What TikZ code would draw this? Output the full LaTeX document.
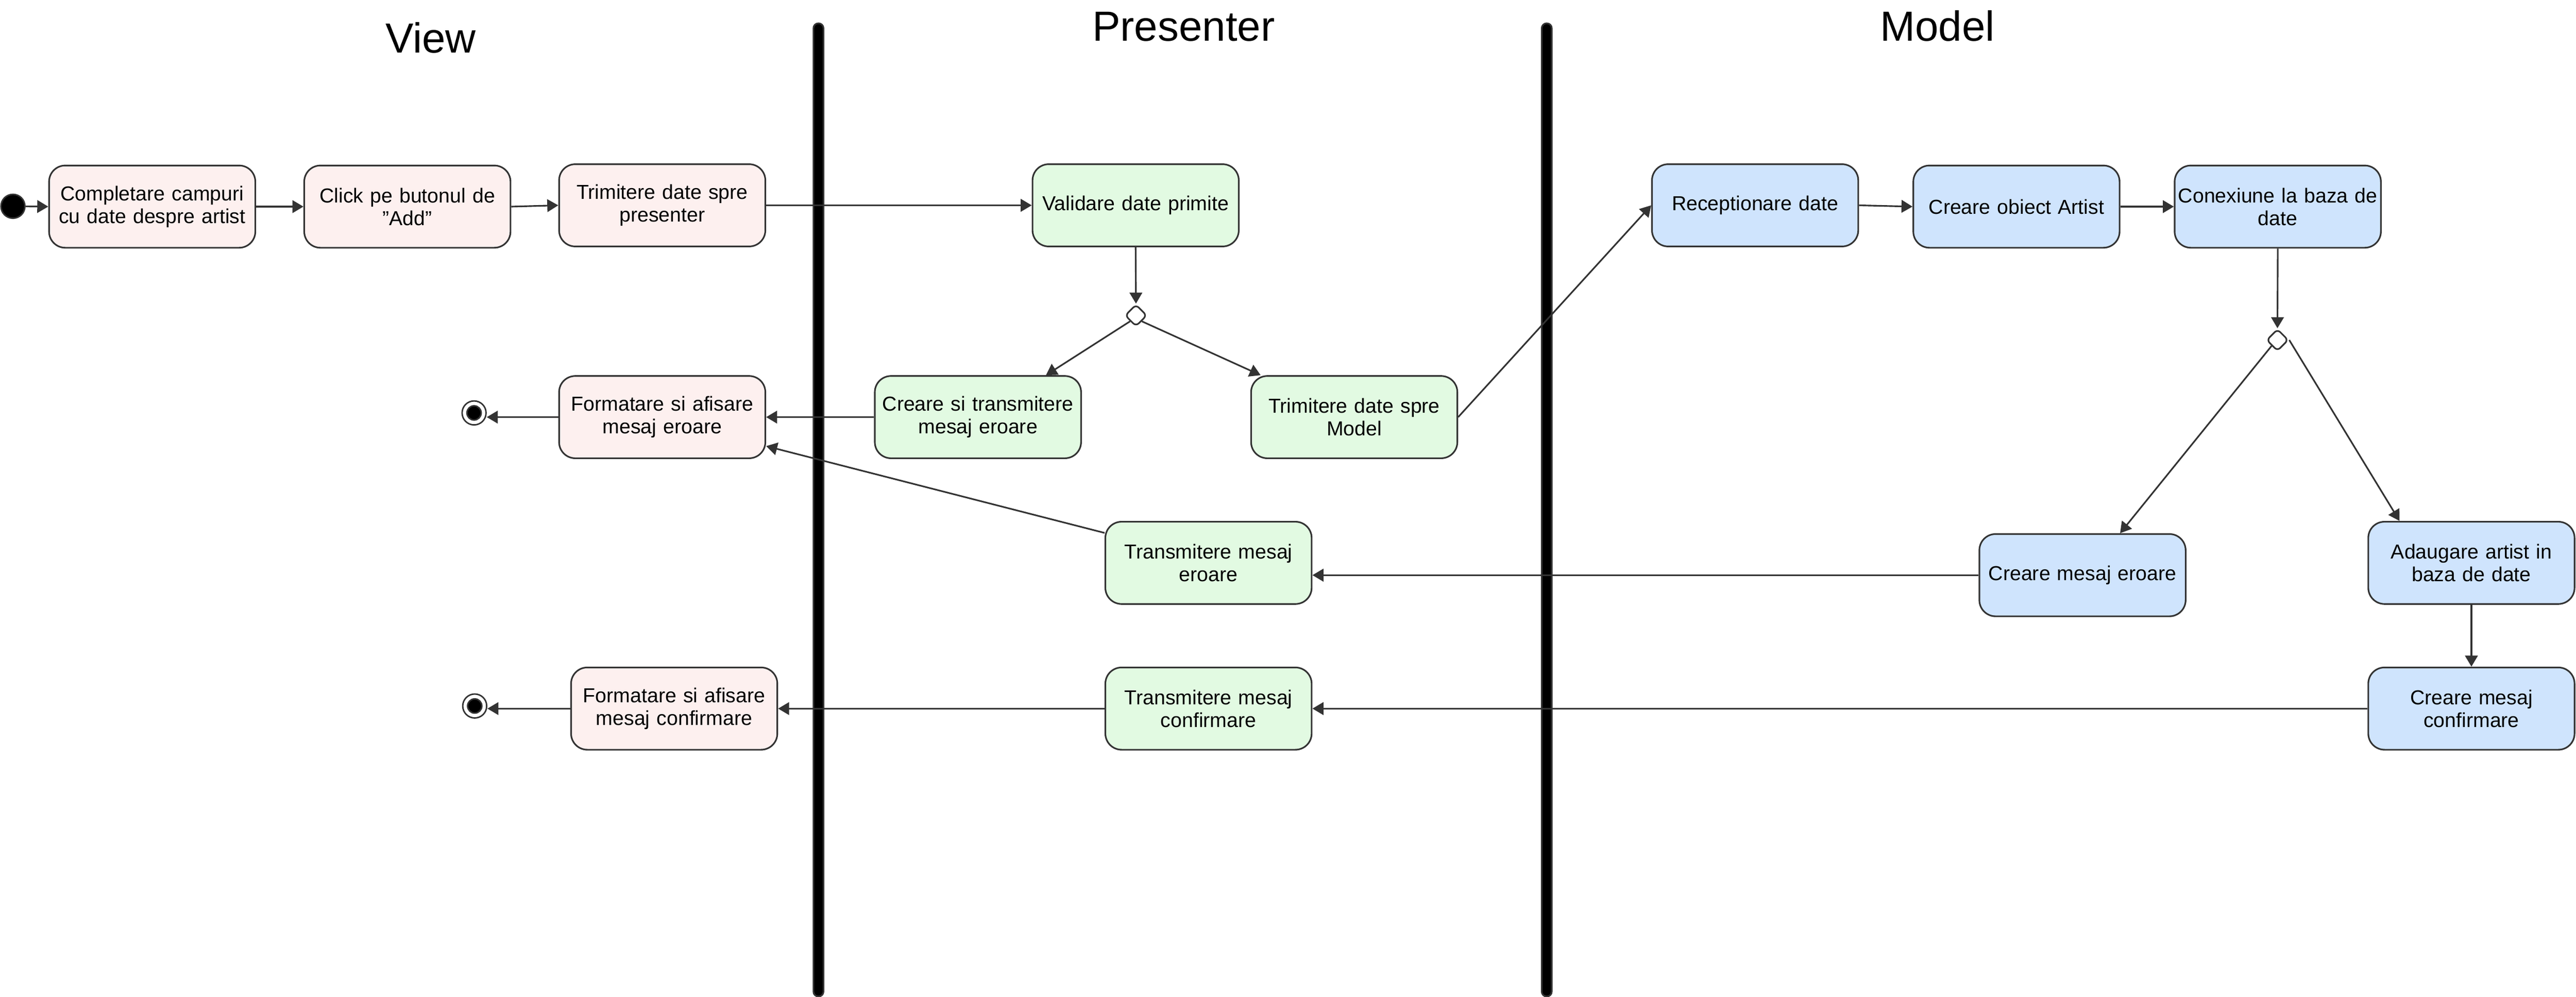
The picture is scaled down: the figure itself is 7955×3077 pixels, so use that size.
\documentclass[tikz,border=0pt]{standalone}
\usepackage{fontspec}
\setmainfont{Liberation Sans}
\usetikzlibrary{shapes.geometric, arrows.meta, calc}
\definecolor{ln}{HTML}{333333}
\definecolor{pinkf}{RGB}{253,240,239}
\definecolor{greenf}{RGB}{226,250,226}
\definecolor{bluef}{RGB}{207,228,253}
\begin{document}
\begin{tikzpicture}[x=0.1pt, y=-0.1pt,
  act/.style={draw=ln, line width=0.5pt, rounded corners=5pt, minimum width=63.7pt,
    minimum height=25.4pt, inner sep=0pt, align=center, text width=62.5pt,
    font=\fontsize{6.25}{7}\selectfont},
  vbox/.style={act, fill=pinkf},
  pbox/.style={act, fill=greenf},
  mbox/.style={act, fill=bluef},
  dec/.style={diamond, draw=ln, line width=0.5pt, fill=white, minimum width=6.8pt,
    minimum height=6.8pt, inner sep=0pt, rounded corners=1.2pt},
  conn/.style={draw=ln, line width=0.5pt, -{Triangle[length=3.4pt,width=3.9pt]}},
  lane/.style={fill=black, draw=ln, line width=0.5pt, rounded corners=1.5pt},
  lanetitle/.style={font=\fontsize{13}{15}\selectfont, anchor=base, inner sep=0pt},
  initst/.style={circle, fill=black, draw=ln, line width=0.45pt, minimum size=7.4pt, inner sep=0pt},
  endst/.style={circle, draw=ln, line width=0.45pt, fill=white, minimum size=7.4pt, inner sep=0pt,
    path picture={\draw[ln, line width=0.45pt, fill=black] (path picture bounding box.center) circle[radius=2.2pt];}}
]
\useasboundingbox (0,0) rectangle (7955,3077);

% swimlane separators
\draw[lane] (2512,72) rectangle (2543,3077);
\draw[lane] (4761,72) rectangle (4792,3077);

% lane titles
\node[lanetitle] (tview) at (1330,163) {View};
\node[lanetitle] (tpres) at (3655,127) {Presenter};
\node[lanetitle] (tmodel) at (5983,127) {Model};

% View lane
\node[initst] (init) at (40,637) {};
\node[vbox] (b1) at (470,638) {Completare campuri\\cu date despre artist};
\node[vbox] (b2) at (1258,638) {Click pe butonul de\\"Add"};
\node[vbox] (b3) at (2045,634) {Trimitere date spre\\presenter};
\node[vbox] (fe) at (2045,1288) {Formatare si afisare\\mesaj eroare};
\node[vbox] (fc) at (2082,2188) {Formatare si afisare\\mesaj confirmare};
\node[endst] (end1) at (1464,1275) {};
\node[endst] (end2) at (1466,2180) {};

% Presenter lane
\node[pbox] (val) at (3507,634) {Validare date primite};
\node[dec] (d1) at (3508,974) {};
\node[pbox] (cst) at (3020,1288) {Creare si transmitere\\mesaj eroare};
\node[pbox] (tdm) at (4182,1288) {Trimitere date spre\\Model};
\node[pbox] (tme) at (3732,1738) {Transmitere mesaj\\eroare};
\node[pbox] (tmc) at (3732,2188) {Transmitere mesaj\\confirmare};

% Model lane
\node[mbox] (rec) at (5420,634) {Receptionare date};
\node[mbox] (coa) at (6227,638) {Creare obiect Artist};
\node[mbox] (con) at (7034,638) {Conexiune la baza de\\date};
\node[dec] (d2) at (7033,1050) {};
\node[mbox] (cme) at (6431,1776) {Creare mesaj eroare};
\node[mbox] (aa) at (7632,1738) {Adaugare artist in\\baza de date};
\node[mbox] (cmc) at (7632,2188) {Creare mesaj\\confirmare};

% connectors
\draw[conn] (init) -- (b1.west);
\draw[conn] (b1.east) -- (b2.west);
\draw[conn] (b2.east) -- (b3.west);
\draw[conn] (b3.east) -- (val.west);
\draw[conn] (val.south) -- (d1.north);
\draw[conn] (d1.south west) -- ($(cst.north)+(210,0)$);
\draw[conn] (d1.south east) -- ($(tdm.north)+(-289,0)$);
\draw[conn] (cst.west) -- (fe.east);
\draw[conn] (fe.west) -- (fe.west -| end1.east);
\draw[conn] ($(tme.north west)+(0,37)$) -- ($(fe.south east)+(0,-40)$);
\draw[conn] (tdm.east) -- (rec.west);
\draw[conn] (rec.east) -- (coa.west);
\draw[conn] (coa.east) -- (con.west);
\draw[conn] (con.south) -- (d2.north);
\draw[conn] (d2.south west) -- ($(cme.north)+(116,0)$);
\draw[conn] (d2.east) -- ($(aa.north)+(-222,0)$);
\draw[conn] (cme.west) -- (cme.west -| tme.east);
\draw[conn] (aa.south) -- (cmc.north);
\draw[conn] (cmc.west) -- (tmc.east);
\draw[conn] (tmc.west) -- (fc.east);
\draw[conn] (fc.west) -- (fc.west -| end2.east);
\end{tikzpicture}
\end{document}
